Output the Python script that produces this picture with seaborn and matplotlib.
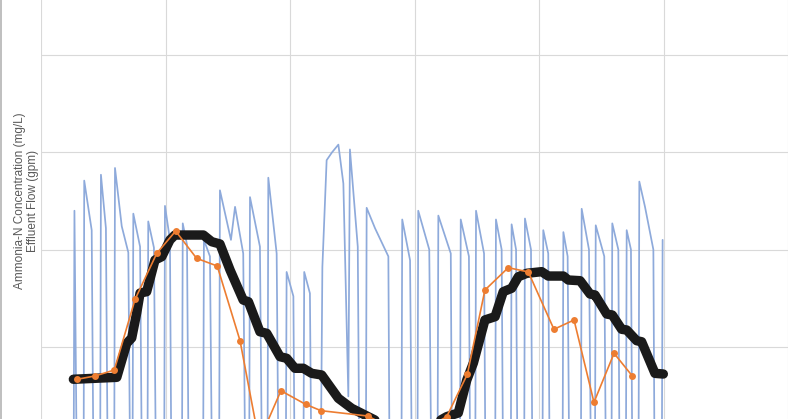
import numpy as np
import pandas as pd
import matplotlib.pyplot as plt
import seaborn as sns
from matplotlib.lines import Line2D

# ------------------------------------------------------------
# Data (x = day, y = shared value axis)
# ------------------------------------------------------------

# effluent flow, one daily discharge cycle per line
flow_day = [
    1.84, 1.88, 2.00,
    2.40, 2.43, 2.85, 2.94,
    3.33, 3.37, 3.65, 3.74,
    4.12, 4.16, 4.54, 4.91, 5.00,
    5.15, 5.19, 5.57, 5.66,
    5.99, 6.03, 6.35, 6.45,
    6.93, 6.97, 7.25, 7.32,
    7.93, 7.97, 8.21, 8.29,
    9.12, 9.16, 9.50, 9.60,
    10.02, 10.06, 10.68, 10.91, 11.37, 11.47,
    11.71, 11.75, 12.31, 12.41,
    12.74, 12.78, 13.25, 13.34,
    13.77, 13.81, 14.19, 14.25,
    14.76, 14.80, 15.12, 15.19,
    15.74, 15.82, 16.06, 16.36, 16.72, 17.00, 17.28, 17.37, 17.81, 17.89,
    18.27, 18.31, 18.78, 19.53, 19.59,
    20.27, 20.31, 20.75, 20.84,
    21.17, 21.21, 21.83, 21.93,
    22.30, 22.34, 23.04, 23.10,
    23.56, 23.60, 24.06, 24.12,
    24.42, 24.46, 24.91, 24.98,
    25.54, 25.58, 25.90, 25.97,
    26.42, 26.46, 26.71, 26.78,
    27.17, 27.21, 27.55, 27.62,
    28.20, 28.24, 28.52, 28.59,
    29.33, 29.37, 29.61, 29.69,
    30.36, 30.40, 30.81, 30.91,
    31.15, 31.19, 31.67, 31.75,
    32.08, 32.12, 32.46, 32.52,
    32.89, 32.93, 33.17, 33.24,
    33.60, 33.64, 33.96, 34.43, 34.49,
    34.91, 34.95,
]
flow_val = [
    0, 24.0, 0,
    0, 27.1, 22.0, 0,
    0, 27.7, 22.2, 0,
    0, 28.4, 22.4, 19.7, 0,
    0, 23.7, 20.3, 0,
    0, 22.9, 20.2, 0,
    0, 24.5, 21.0, 0,
    0, 22.7, 20.5, 0,
    0, 21.0, 19.3, 0,
    0, 26.1, 21.0, 24.4, 19.6, 0,
    0, 25.4, 20.3, 0,
    0, 27.4, 19.6, 0,
    0, 17.7, 15.2, 0,
    0, 17.7, 15.5, 0,
    0, 18.2, 29.2, 30.0, 30.8, 26.8, 4.9, 30.3, 20.3, 0,
    0, 24.3, 22.2, 19.3, 0,
    0, 23.1, 18.9, 0,
    0, 24.0, 20.0, 0,
    0, 23.5, 19.6, 0,
    0, 23.1, 19.3, 0,
    0, 24.0, 19.6, 0,
    0, 23.1, 20.0, 0,
    0, 22.6, 20.0, 0,
    0, 23.2, 20.0, 0,
    0, 22.0, 19.6, 0,
    0, 21.8, 19.3, 0,
    0, 24.2, 20.0, 0,
    0, 22.5, 19.3, 0,
    0, 22.7, 20.0, 0,
    0, 22.0, 20.0, 0,
    0, 27.0, 24.4, 20.0, 0,
    0, 21.0,
]

# ammonia-N trend (thick black line)
trend_day = [1.82, 4.26, 4.82, 5.10, 5.38, 5.57, 5.94, 6.41, 6.79, 7.25, 7.53,
             9.13, 9.60, 10.06, 10.63, 11.37, 11.66, 12.31, 12.69, 13.44, 13.81,
             14.28, 14.75, 15.22, 15.78, 16.72, 17.47, 18.40, 19.34, 21.87,
             22.81, 23.46, 23.94, 24.31, 24.96, 25.53, 25.99, 26.46, 26.84,
             27.31, 28.15, 28.52, 29.37, 29.65, 30.31, 30.87, 31.15, 31.81,
             32.12, 32.65, 32.93, 33.49, 33.77, 34.52, 34.99]
trend_val = [6.66, 6.86, 10.36, 10.91, 13.48, 15.53, 15.67, 18.93, 19.27, 20.99, 21.50,
             21.50, 20.81, 20.58, 17.90, 14.81, 14.64, 11.55, 11.39, 8.98, 8.82,
             7.79, 7.79, 7.27, 7.10, 4.70, 3.67, 2.81, 1.95, 1.85,
             2.81, 3.19, 6.58, 8.33, 12.76, 13.10, 15.67, 16.02, 17.21,
             17.56, 17.73, 17.28, 17.28, 16.87, 16.80, 15.43, 15.33, 13.37,
             13.27, 11.80, 11.73, 10.63, 10.52, 7.27, 7.20]

# ammonia-N grab samples (orange)
sample_day = [2.04, 3.04, 4.12, 5.29, 6.51, 7.57, 8.75, 9.91, 11.19, 12.26,
              13.49, 14.88, 15.74, 18.37, 19.90, 21.31, 22.81, 23.97, 24.96,
              26.27, 27.40, 28.84, 29.97, 31.09, 32.22, 33.25]
sample_val = [6.66, 7.00, 7.61, 14.89, 19.62, 21.91, 19.10, 18.31, 10.63, 0.3,
              5.48, 4.08, 3.43, 2.88, 1.44, 1.23, 2.81, 7.17, 15.84,
              18.14, 17.70, 11.80, 12.76, 4.29, 9.33, 6.99]

flow_df = pd.DataFrame({"day": flow_day, "value": flow_val})
trend_df = pd.DataFrame({"day": trend_day, "value": trend_val})
sample_df = pd.DataFrame({"day": sample_day, "value": sample_val})

# ------------------------------------------------------------
# Figure
# ------------------------------------------------------------

sns.set_style("whitegrid")
plt.rcParams['font.family'] = ['Liberation Sans', 'DejaVu Sans']

fig = plt.figure(figsize=(8, 4.19), dpi=100)
# plot area runs past the bottom/top of the picture (cropped chart)
ax = fig.add_axes([41 / 800, -25 / 419, 747 / 800, 486 / 419])

sns.lineplot(data=flow_df, x="day", y="value", ax=ax, color="#8eaadb",
             linewidth=1.25, estimator=None, sort=False, legend=False)
sns.lineplot(data=trend_df, x="day", y="value", ax=ax, color="#1a1a1a",
             linewidth=6.8, estimator=None, sort=False, legend=False,
             solid_capstyle="round", solid_joinstyle="round")
sns.lineplot(data=sample_df, x="day", y="value", ax=ax, color="#ed7d31",
             linewidth=1.2, marker="o", markersize=5, markeredgewidth=0,
             estimator=None, sort=False, legend=False)

ax.set_xlim(0, 42)
ax.set_ylim(0, 50)
ax.set_xticks(np.arange(0, 43, 7))
ax.set_yticks(np.arange(0, 51, 10))
ax.tick_params(labelleft=False, labelbottom=False, length=0)
ax.grid(color="#d9d9d9", linewidth=0.8)
for s in ax.spines.values():
    s.set_visible(False)
ax.set_xlabel("")
ax.set_ylabel("")

fig.text(26.5 / 800, 1 - 201 / 419,
         "Ammonia-N Concentration (mg/L)\nEffluent Flow (gpm)",
         rotation=90, ha="center", va="center", multialignment="center",
         fontsize=8.5, color="#595959")

# chart-area border on the left edge
fig.add_artist(Line2D([1.2 / 800, 1.2 / 800], [0, 1], color="#b4b4b4", linewidth=1.2))

fig.savefig("out.png", dpi=100)
